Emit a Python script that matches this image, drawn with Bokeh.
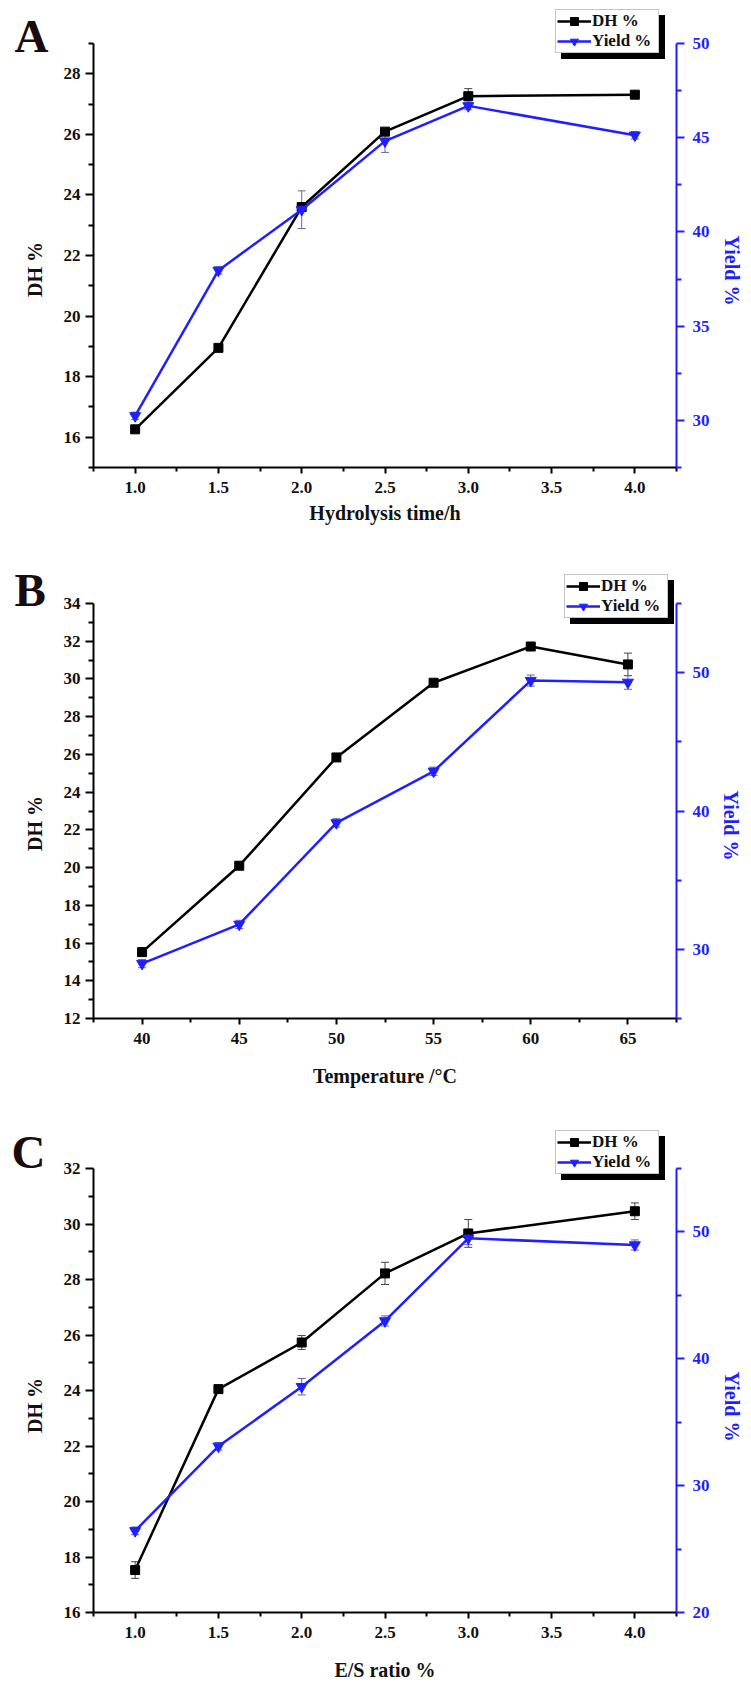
import math
from bokeh.plotting import figure
from bokeh.models import (LinearAxis, Range1d, FixedTicker, Legend, LegendItem, Label,
                          Whisker, TeeHead, ColumnDataSource, NumeralTickFormatter, GridBox)
from bokeh.core.properties import value
from bokeh.embed import file_html
from bokeh.resources import INLINE

FONT = "Liberation Serif"
BLUE = "#1f1fff"
INK = "#111111"

# ---------------- Panel A: hydrolysis time ----------------
time_h = [1.0, 1.5, 2.0, 2.5, 3.0, 4.0]
dh_time = [16.26, 18.95, 23.60, 26.09, 27.26, 27.31]
dh_time_err = [0.10, 0.10, 0.10, 0.10, 0.25, 0.10]
yield_time = [30.24, 37.96, 41.18, 44.82, 46.69, 45.13]
yield_time_err = [0.2, 0.2, 1.0, 0.6, 0.2, 0.2]

# ---------------- Panel B: temperature ----------------
temp_c = [40, 45, 50, 55, 60, 65]
dh_temp = [15.52, 20.10, 25.84, 29.80, 31.72, 30.77]
dh_temp_err = [0.20, 0.20, 0.15, 0.15, 0.15, 0.60]
yield_temp = [28.97, 31.80, 39.14, 42.87, 49.43, 49.30]
yield_temp_err = [0.3, 0.3, 0.3, 0.3, 0.4, 0.5]

# ---------------- Panel C: E/S ratio ----------------
es_ratio = [1.0, 1.5, 2.0, 2.5, 3.0, 4.0]
dh_es = [17.53, 24.05, 25.73, 28.22, 29.66, 30.46]
dh_es_err = [0.30, 0.10, 0.25, 0.40, 0.50, 0.30]
yield_es = [26.44, 33.10, 37.80, 42.98, 49.50, 48.97]
yield_es_err = [0.3, 0.3, 0.65, 0.4, 0.5, 0.4]

# tick positions
time_ticks = [1.0, 1.5, 2.0, 2.5, 3.0, 3.5, 4.0]
time_minor = [0.75, 1.25, 1.75, 2.25, 2.75, 3.25, 3.75, 4.25]
temp_ticks = [40, 45, 50, 55, 60, 65]
temp_minor = [37.5, 42.5, 47.5, 52.5, 57.5, 62.5, 67.5]

series_labels = ["DH %", "Yield %"]


def style_axis(ax, color):
    txt = INK if color == "black" else color
    ax.axis_line_color = color
    ax.axis_line_width = 2
    ax.major_tick_line_color = color
    ax.minor_tick_line_color = color
    ax.major_tick_line_width = 2
    ax.minor_tick_line_width = 2
    ax.major_tick_in = 0
    ax.minor_tick_in = 0
    ax.major_label_text_font = FONT
    ax.major_label_text_font_style = "bold"
    ax.major_label_text_font_size = "17px"
    ax.major_label_text_color = txt
    ax.axis_label_text_font = FONT
    ax.axis_label_text_font_style = "bold"
    ax.axis_label_text_font_size = "20px"
    ax.axis_label_text_color = txt


def make_panel(x, dh, dh_err, yl, yl_err, xlabel, xr, xt, xm, xfmt,
               dhr, dht, dhm, ylr, ylt, ylm, height, top, bottom, xl_standoff):
    p = figure(width=751, height=height, output_backend="svg", toolbar_location=None,
               x_range=Range1d(*xr), y_range=Range1d(*dhr),
               min_border_left=93, min_border_right=75,
               min_border_top=top, min_border_bottom=bottom)
    p.outline_line_color = None
    p.xgrid.visible = False
    p.ygrid.visible = False
    p.extra_y_ranges = {"yield": Range1d(*ylr)}

    xa = p.xaxis[0]
    style_axis(xa, "black")
    xa.ticker = FixedTicker(ticks=xt, minor_ticks=xm)
    if xfmt:
        xa.formatter = NumeralTickFormatter(format=xfmt)
    xa.major_tick_out = 6
    xa.minor_tick_out = 4
    xa.major_label_standoff = 8
    xa.axis_label = xlabel
    xa.axis_label_standoff = xl_standoff

    ya = p.yaxis[0]
    style_axis(ya, "black")
    ya.ticker = FixedTicker(ticks=dht, minor_ticks=dhm)
    ya.major_tick_out = 8
    ya.minor_tick_out = 5
    ya.major_label_standoff = 5

    ra = LinearAxis(y_range_name="yield")
    style_axis(ra, BLUE)
    ra.ticker = FixedTicker(ticks=ylt, minor_ticks=ylm)
    ra.major_tick_out = 8
    ra.minor_tick_out = 5
    ra.major_label_standoff = 8
    p.add_layout(ra, "right")

    dsrc = ColumnDataSource(dict(x=x, lo=[v - e for v, e in zip(dh, dh_err)],
                                 hi=[v + e for v, e in zip(dh, dh_err)]))
    ysrc = ColumnDataSource(dict(x=x, lo=[v - e for v, e in zip(yl, yl_err)],
                                 hi=[v + e for v, e in zip(yl, yl_err)]))
    p.add_layout(Whisker(source=dsrc, base="x", lower="lo", upper="hi",
                         line_color="#444444", line_width=1,
                         upper_head=TeeHead(size=8, line_color="#444444", line_width=1),
                         lower_head=TeeHead(size=8, line_color="#444444", line_width=1)))
    p.add_layout(Whisker(source=ysrc, base="x", lower="lo", upper="hi", y_range_name="yield",
                         line_color="#6464a8", line_width=1,
                         upper_head=TeeHead(size=8, line_color="#6464a8", line_width=1),
                         lower_head=TeeHead(size=8, line_color="#6464a8", line_width=1)))

    p.line(x, dh, line_color="black", line_width=2.5)
    p.scatter(x, dh, marker="square", size=9, color="black")
    p.line(x, yl, line_color=BLUE, line_width=2.5, y_range_name="yield")
    p.scatter(x, yl, marker="inverted_triangle", size=11, color=BLUE, y_range_name="yield")
    return p


def make_overlay(letter, height, letter_xy, leg_xy, dh_lab_xy, yl_lab_xy):
    # transparent layer, same size as the panel; its frame covers the whole panel
    # (pixel coordinates, y downwards): panel letter, y-axis titles, boxed legend
    o = figure(width=751, height=height, frame_width=751, frame_height=height,
               output_backend="svg", toolbar_location=None,
               x_range=Range1d(0, 751), y_range=Range1d(height, 0),
               x_axis_location=None, y_axis_location=None,
               min_border=0, min_border_left=0, min_border_right=0,
               min_border_top=0, min_border_bottom=0)
    try:
        o.frame_align = False
    except Exception:
        pass
    o.outline_line_color = None
    o.xgrid.visible = False
    o.ygrid.visible = False
    o.background_fill_alpha = 0
    o.border_fill_alpha = 0

    # legend keys: one point each, placed off the visible area
    k1 = o.line([], [], line_color="black")
    k2 = o.line([], [], line_color="black")
    dl = o.line([-1000, -990], [-1000, -1000], line_color="black", line_width=2.5)
    ds = o.scatter([-1000], [-1000], marker="square", size=9, color="black")
    yline = o.line([-1000, -990], [-1000, -1000], line_color=BLUE, line_width=2.5)
    ys = o.scatter([-1000], [-1000], marker="inverted_triangle", size=11, color=BLUE)

    lx, ly = leg_xy
    common = dict(label_text_font=FONT, label_text_font_style="bold",
                  label_text_font_size="17px", glyph_width=34, glyph_height=20,
                  label_height=20, label_width=65, label_standoff=1, spacing=0,
                  padding=1, margin=0, border_line_width=1)
    shadow = Legend(items=[LegendItem(label=value("\u00a0"), renderers=[k1]),
                           LegendItem(label=value("\u00a0"), renderers=[k2])],
                    location=(lx + 6, height - ly - 6), background_fill_color="black",
                    background_fill_alpha=1.0, border_line_color="black",
                    label_text_color="black", **common)
    main = Legend(items=[LegendItem(label=value(series_labels[0]), renderers=[dl, ds]),
                         LegendItem(label=value(series_labels[1]), renderers=[yline, ys])],
                  location=(lx, height - ly), background_fill_color="white",
                  background_fill_alpha=1.0, border_line_color="#8a8a8a",
                  label_text_color=INK, **common)
    o.add_layout(shadow)
    o.add_layout(main)
    o.add_layout(Label(x=letter_xy[0], y=letter_xy[1], text=letter, text_font=FONT,
                       text_font_style="bold", text_font_size="47px",
                       text_baseline="alphabetic", text_color="#1a0c0c"))
    o.add_layout(Label(x=dh_lab_xy[0], y=dh_lab_xy[1], text="DH %", text_font=FONT,
                       text_font_style="bold", text_font_size="20px", angle=math.pi / 2,
                       text_align="center", text_baseline="middle", text_color=INK))
    o.add_layout(Label(x=yl_lab_xy[0], y=yl_lab_xy[1], text="Yield %", text_font=FONT,
                       text_font_style="bold", text_font_size="20px", angle=-math.pi / 2,
                       text_align="center", text_baseline="middle", text_color=BLUE))
    return o


pA = make_panel(time_h, dh_time, dh_time_err, yield_time, yield_time_err,
                "Hydrolysis time/h", (0.75, 4.25), time_ticks, time_minor, "0.0",
                (15, 29), list(range(16, 29, 2)), list(range(15, 30, 2)),
                (27.5, 50), [30, 35, 40, 45, 50], [27.5, 32.5, 37.5, 42.5, 47.5],
                548, 43, 81, 6)
oA = make_overlay("A", 548, (14, 35), (555, 53), (34, 269), (731, 270))

pB = make_panel(temp_c, dh_temp, dh_temp_err, yield_temp, yield_temp_err,
                "Temperature /°C", (37.5, 67.5), temp_ticks, temp_minor, None,
                (12, 34), list(range(12, 35, 2)), list(range(13, 34, 2)),
                (25, 55), [30, 40, 50], [25, 35, 45, 55],
                560, 55, 90, 18)
oB = make_overlay("B", 560, (14, 41), (564, 70), (34, 275), (730, 277))

pC = make_panel(es_ratio, dh_es, dh_es_err, yield_es, yield_es_err,
                "E/S ratio %", (0.75, 4.25), time_ticks, time_minor, "0.0",
                (16, 32), list(range(16, 33, 2)), list(range(17, 32, 2)),
                (20, 55), [20, 30, 40, 50], [25, 35, 45, 55],
                576, 60, 72, 18)
oC = make_overlay("C", 576, (11, 43), (555, 66), (34, 297), (731, 298))

layout = GridBox(children=[(pA, 0, 0), (oA, 0, 0), (pB, 1, 0), (oB, 1, 0),
                           (pC, 2, 0), (oC, 2, 0)])
open("out.html", "w").write(file_html(layout, INLINE))
